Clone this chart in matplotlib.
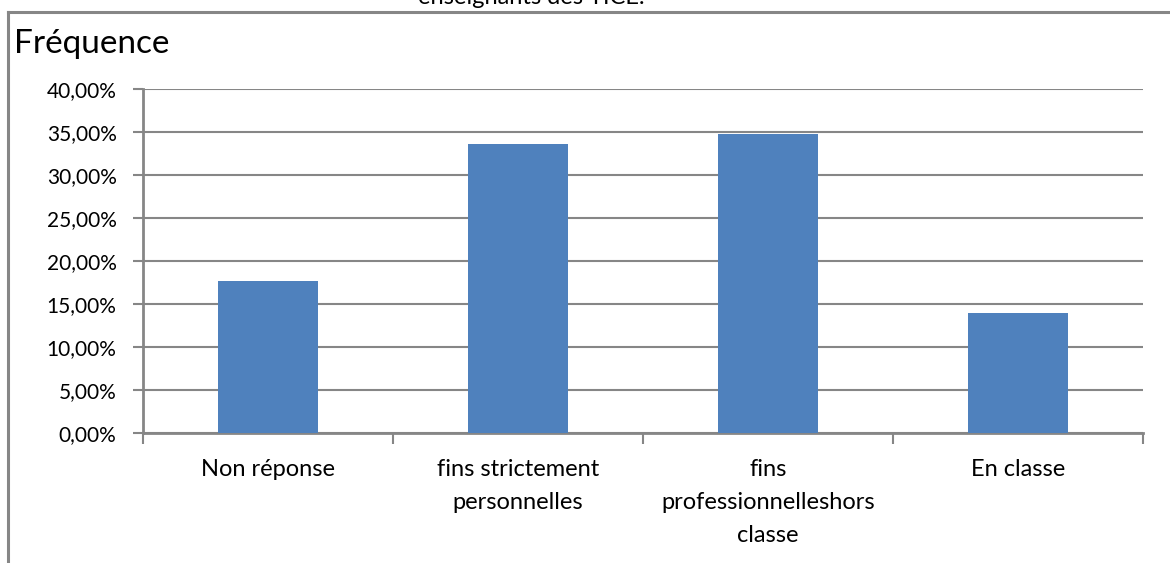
import matplotlib.pyplot as plt
from matplotlib.lines import Line2D
from matplotlib.ticker import FuncFormatter, FixedLocator

plt.rcParams['font.family'] = ['Lato', 'DejaVu Sans']

# données
categories = ["Non réponse", "fins strictement\npersonnelles",
              "fins\nprofessionnelleshors\nclasse", "En classe"]
frequences = [17.67, 33.60, 34.77, 13.96]
y_ticks = [0, 5, 10, 15, 20, 25, 30, 35, 40]

gris = '#868686'
bleu = '#4F81BD'

fig = plt.figure(figsize=(11.7, 5.63), dpi=100)
ax = fig.add_axes([143 / 1170, 1 - 433 / 563, 1000 / 1170, 344 / 563])

x = range(len(categories))
ax.bar(x, frequences, width=0.4, color=bleu, zorder=3)

ax.set_xlim(-0.5, len(categories) - 0.5)
ax.set_ylim(0, 40)
ax.set_yticks(y_ticks)
ax.yaxis.set_major_formatter(FuncFormatter(lambda v, p: f"{v:.2f}%".replace('.', ',')))
ax.grid(axis='y', color=gris, linewidth=1.5, zorder=0)

ax.set_xticks(list(x))
ax.set_xticklabels(categories, linespacing=1.7)
ax.xaxis.set_minor_locator(FixedLocator([i - 0.5 for i in range(len(categories) + 1)]))
ax.tick_params(axis='x', which='major', length=0, pad=19, labelsize=17, colors='black')
ax.tick_params(axis='x', which='minor', length=8, width=1.5, color=gris, direction='out')
ax.tick_params(axis='y', length=7, width=1.5, color=gris, direction='out', pad=12, labelsize=15)

for s in ['top', 'right']:
    ax.spines[s].set_visible(False)
for s in ['left', 'bottom']:
    ax.spines[s].set_color(gris)
    ax.spines[s].set_linewidth(2)

# cadre extérieur (partiellement visible)
fig.add_artist(Line2D([8 / 1170, 8 / 1170], [0, 1 - 12 / 563], color=gris, linewidth=2.2, transform=fig.transFigure))
fig.add_artist(Line2D([8 / 1170, 1], [1 - 12 / 563, 1 - 12 / 563], color=gris, linewidth=2.2, transform=fig.transFigure))

fig.text(14 / 1170, 1 - 53 / 563, "Fréquence", fontsize=24, va='baseline', ha='left')
fig.text(531 / 1170, 1 - 4 / 563, "enseignants des TICE.", fontsize=17, va='baseline', ha='center')

fig.savefig('out.png', dpi=100)
